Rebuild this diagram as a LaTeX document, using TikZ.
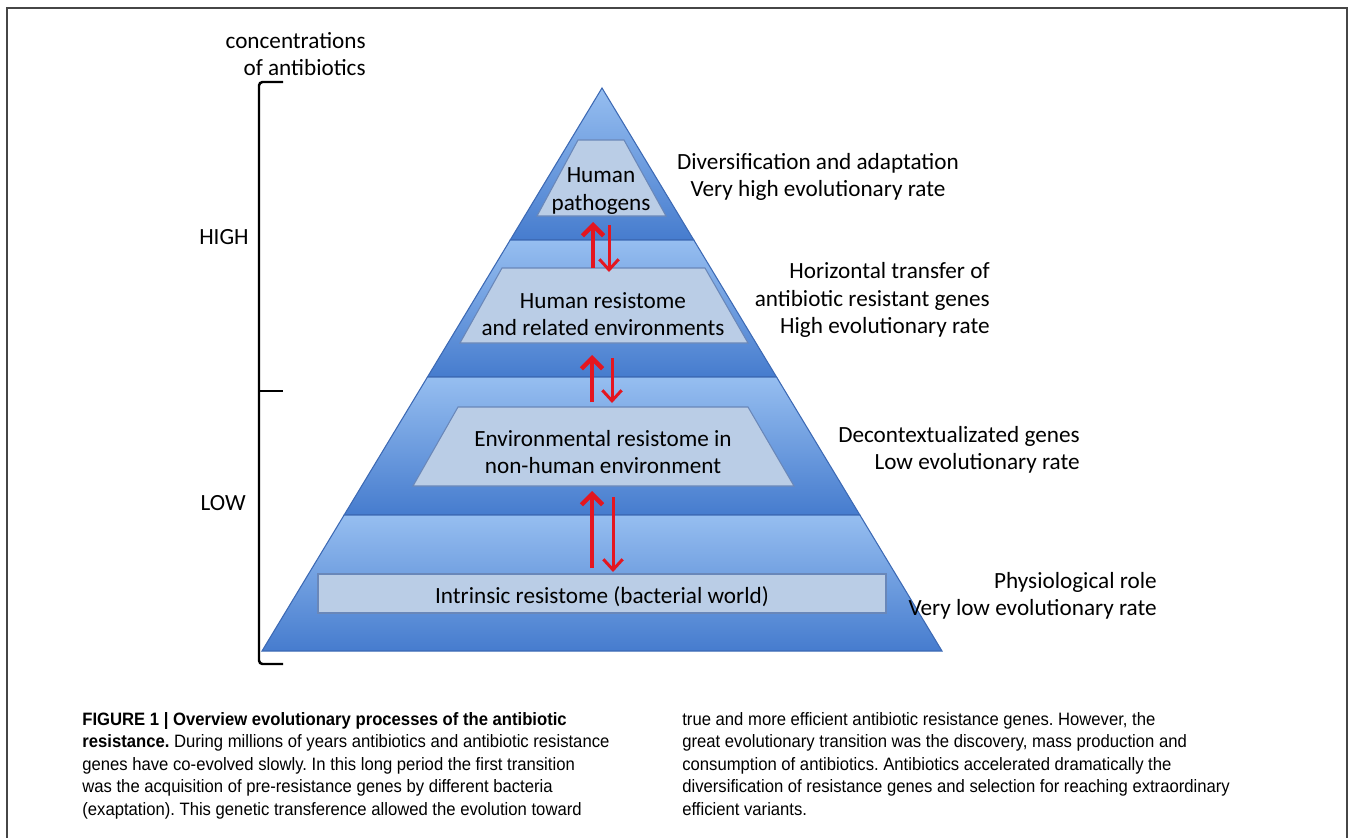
\documentclass[tikz,border=0pt]{standalone}
\usepackage{fontspec}
\setmainfont{Carlito}
\newfontfamily\capfont[FakeStretch=0.93]{Liberation Sans}
\usetikzlibrary{arrows.meta, positioning, calc}

\definecolor{bandtop}{RGB}{150,190,240}
\definecolor{bandbot}{RGB}{70,124,206}
\definecolor{bandline}{RGB}{60,105,180}
\definecolor{innerfill}{RGB}{186,205,230}
\definecolor{innerline}{RGB}{105,135,185}
\definecolor{arrowred}{RGB}{228,22,32}
\definecolor{framegray}{RGB}{70,70,70}

\tikzset{
  band/.style={top color=bandtop, bottom color=bandbot, draw=bandline, line width=0.6pt},
  inner/.style={fill=innerfill, draw=innerline, line width=0.6pt},
  lbl/.style={font=\fontsize{13.2}{15.6}\selectfont, align=center, inner sep=0pt},
  uparr/.style={draw=arrowred, line width=2.6pt, -{Straight Barb[length=6pt, width=12pt]}},
  downarr/.style={draw=arrowred, line width=1.7pt, -{Straight Barb[length=6pt, width=11pt]}},
  bracket/.style={draw=black, line width=1.4pt, rounded corners=2pt},
  caption/.style={font=\capfont\fontsize{10.2}{12.8}\selectfont\frenchspacing, align=left, inner sep=0pt, anchor=north west}
}

\begin{document}
\begin{tikzpicture}[x=0.02cm, y=-0.02cm]
  \useasboundingbox (0,0) rectangle (1349,838);
  % frame, open at the bottom
  \draw[framegray, line width=0.9pt] (7,838) -- (7,8) -- (1347,8) -- (1347,838);

  % pyramid bands
  \foreach \ya/\yb in {88/240, 240/377, 377/515, 515/651}{
    \pgfmathsetmacro{\wa}{0.6039*(\ya-88)}
    \pgfmathsetmacro{\wb}{0.6039*(\yb-88)}
    \draw[band] (602-\wa,\ya) -- (602+\wa,\ya) -- (602+\wb,\yb) -- (602-\wb,\yb) -- cycle;
  }

  % inner levels
  \draw[inner] (578,140) -- (624,140) -- (666,216) -- (537,216) -- cycle;
  \draw[inner] (502,268) -- (705,268) -- (748,343) -- (460,343) -- cycle;
  \draw[inner] (458,407) -- (748,407) -- (794,486) -- (413,486) -- cycle;
  \draw[inner] (318,574) rectangle (886,613);

  \node[lbl] (patho) at (601,191) {Human\\pathogens};
  \node[lbl] (humres) at (603,314) {Human resistome\\and related environments};
  \node[lbl] (envres) at (603,452) {Environmental resistome in\\non-human environment};
  \node[lbl] (intres) at (602,597) {Intrinsic resistome (bacterial world)};

  % exchange arrows
  \coordinate (ua1) at (593,268); \coordinate (ub1) at (593,222);
  \coordinate (da1) at (609,225); \coordinate (db1) at (609,272);
  \coordinate (ua2) at (592,402); \coordinate (ub2) at (592,355);
  \coordinate (da2) at (612,358); \coordinate (db2) at (612,403);
  \coordinate (ua3) at (592,568); \coordinate (ub3) at (592,491);
  \coordinate (da3) at (613,497); \coordinate (db3) at (613,572);
  \foreach \i in {1,2,3}{
    \draw[uparr] (ua\i) -- (ub\i);
    \draw[downarr] (da\i) -- (db\i);
  }

  % concentration bracket
  \draw[bracket] (283,82) -- (259,82) -- (259,664) -- (283,664);
  \draw[bracket] (259,391) -- (283,391);
  \node[lbl, align=right, anchor=east] (conc) at (366,54) {concentrations\\of antibiotics};
  \node[lbl, anchor=east] (high) at (249,237) {HIGH};
  \node[lbl, anchor=east] (low) at (246,503) {LOW};

  % rates
  \node[lbl] (rate1) at (818,177) {Diversification and adaptation\\Very high evolutionary rate};
  \node[lbl, align=right, anchor=east] (rate2) at (990,300) {Horizontal transfer of\\antibiotic resistant genes\\High evolutionary rate};
  \node[lbl, align=right, anchor=east] (rate3) at (1080,450) {Decontextualizated genes\\Low evolutionary rate};
  \node[lbl, align=right, anchor=east] (rate4) at (1157,596) {Physiological role\\Very low evolutionary rate};

  % caption
  \node[caption] (capl) at (82,712) {\textbf{FIGURE 1 | Overview evolutionary processes of the antibiotic}\\
    \textbf{resistance.} During millions of years antibiotics and antibiotic resistance\\
    genes have co-evolved slowly. In this long period the first transition\\
    was the acquisition of pre-resistance genes by different bacteria\\
    (exaptation). This genetic transference allowed the evolution toward};
  \node[caption] (capr) at (682,712) {true and more efficient antibiotic resistance genes. However, the\\
    great evolutionary transition was the discovery, mass production and\\
    consumption of antibiotics. Antibiotics accelerated dramatically the\\
    diversification of resistance genes and selection for reaching extraordinary\\
    efficient variants.};
\end{tikzpicture}
\end{document}
